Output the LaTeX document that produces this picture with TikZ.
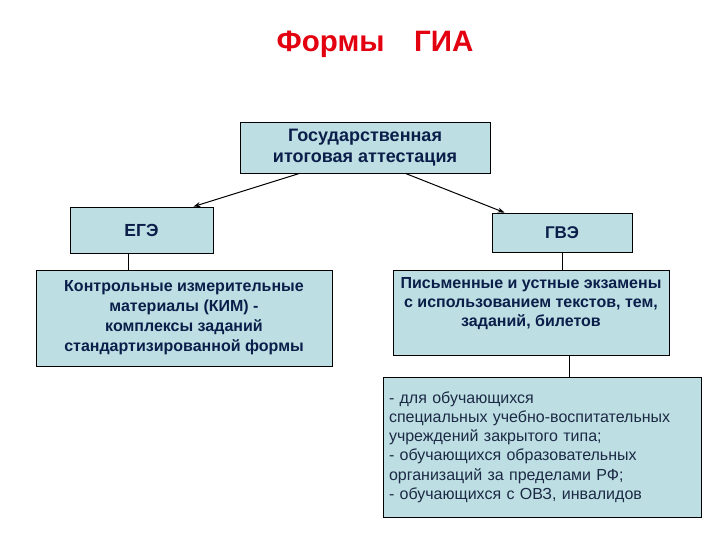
\documentclass[tikz,border=0pt]{standalone}
\usepackage{fontspec}
\setmainfont{Liberation Sans}
\usetikzlibrary{arrows.meta,positioning,calc}
\definecolor{BoxFill}{HTML}{BDDFE3}
\definecolor{BoxText}{HTML}{0B1E4A}
\definecolor{ListText}{HTML}{1C2A45}
\definecolor{TitleRed}{HTML}{E3000F}

\tikzset{
  gbox/.style={draw=black, fill=BoxFill, line width=0.8pt, inner sep=0pt,
               align=center, text=BoxText,
               font=\bfseries\fontsize{16}{20}\selectfont},
  link/.style={draw=black, line width=0.8pt},
  arr/.style={link, line width=1pt, -{Stealth[length=7pt,width=5pt]}}
}

\begin{document}
\begin{tikzpicture}[x=1pt,y=-1pt]
  \useasboundingbox (0,0) rectangle (720,540);

  % title
  \node[anchor=base, text=TitleRed,
        font=\bfseries\fontsize{29.5}{34}\selectfont] (title) at (375,52)
        {Формы\quad ГИА};

  % boxes
  \node[gbox, minimum width=250pt, minimum height=51pt,
        font=\bfseries\fontsize{18}{21.5}\selectfont] (gia) at (365,147.5)
        {Государственная\\итоговая аттестация};
  \node[gbox, minimum width=143pt, minimum height=46pt,
        font=\bfseries\fontsize{17.5}{20}\selectfont] (ege) at (141.5,230) {ЕГЭ};
  \node[gbox, minimum width=140pt, minimum height=39pt,
        font=\bfseries\fontsize{17}{20}\selectfont] (gve) at (562,232.5) {ГВЭ};
  \node[gbox, minimum width=296pt, minimum height=96pt] (kim) at (184,318)
        {Контрольные измерительные\\
         материалы (КИМ) -\\
         комплексы заданий\\
         стандартизированной формы};
  \node[gbox, minimum width=276pt, minimum height=85pt,
        font=\bfseries\fontsize{16}{19}\selectfont] (pis) at (531,312.5)
        {Письменные и устные экзамены\\
         с использованием текстов, тем,\\
         заданий, билетов\\[-4pt]\strut};
  \node[gbox, minimum width=318pt, minimum height=140pt, text width=306pt,
        align=left, text=ListText,
        font=\fontsize{16}{19.2}\selectfont] (obz) at (542,447)
        {- для обучающихся\\
         специальных учебно-воспитательных\\
         учреждений закрытого типа;\\
         - обучающихся образовательных\\
         организаций за пределами РФ;\\
         - обучающихся с ОВЗ, инвалидов};

  % connectors
  \draw[arr] ([xshift=60pt]gia.south west) -- ([xshift=-20pt]ege.north east);
  \draw[arr] ([xshift=-85pt]gia.south east) -- ([xshift=13pt]gve.north west);
  \draw[link] ([xshift=-13pt]ege.south) -- ([xshift=-13pt]ege.south |- kim.north);
  \draw[link] (gve.south) -- (gve.south |- pis.north);
  \draw[link] ([xshift=7pt]pis.south -| gve.south) -- ([xshift=7pt]obz.north -| gve.south);
\end{tikzpicture}
\end{document}
